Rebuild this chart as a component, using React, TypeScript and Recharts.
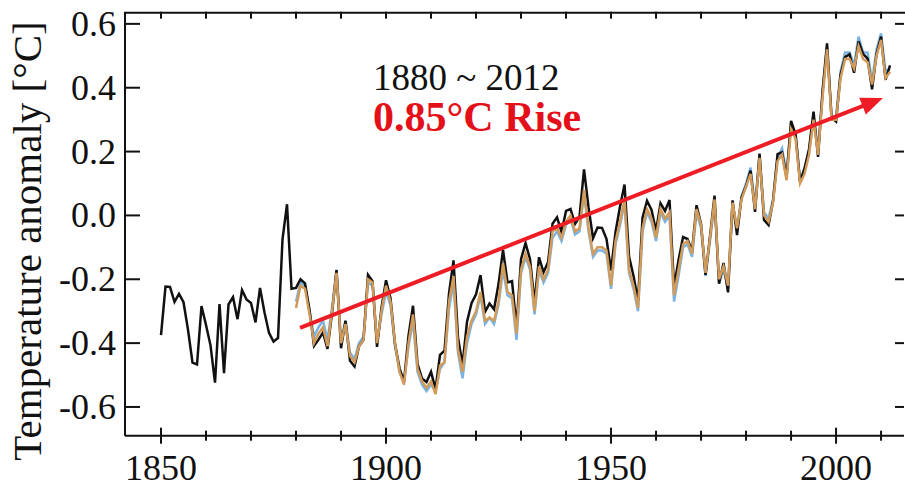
import React from 'react'
import { LineChart, Line, XAxis, YAxis } from 'recharts'

// HadCRUT4-style annual anomalies, 1850-2012 (black)
const hadcrutStart = 1850
const hadcrut = [
  -0.375, -0.223, -0.224, -0.271, -0.246, -0.272, -0.358, -0.461, -0.467, -0.284,
  -0.343, -0.407, -0.524, -0.278, -0.494, -0.279, -0.256, -0.325, -0.234, -0.263,
  -0.274, -0.335, -0.227, -0.304, -0.368, -0.395, -0.384, -0.075, 0.035, -0.23,
  -0.227, -0.2, -0.213, -0.296, -0.409, -0.389, -0.367, -0.418, -0.307, -0.171,
  -0.416, -0.33, -0.455, -0.473, -0.41, -0.39, -0.186, -0.206, -0.412, -0.289,
  -0.203, -0.259, -0.402, -0.479, -0.52, -0.377, -0.283, -0.465, -0.511, -0.522,
  -0.49, -0.544, -0.437, -0.424, -0.244, -0.141, -0.383, -0.468, -0.333, -0.275,
  -0.247, -0.187, -0.302, -0.276, -0.294, -0.215, -0.108, -0.21, -0.206, -0.35,
  -0.137, -0.087, -0.137, -0.273, -0.131, -0.178, -0.147, -0.026, -0.006, -0.052,
  0.014, 0.02, -0.027, -0.004, 0.144, 0.025, -0.071, -0.038, -0.039, -0.074,
  -0.173, -0.052, 0.028, 0.097, -0.129, -0.19, -0.267, -0.007, 0.046, 0.017,
  -0.049, 0.038, 0.014, 0.048, -0.223, -0.14, -0.068, -0.074, -0.113, 0.032,
  -0.027, -0.186, -0.065, 0.062, -0.214, -0.149, -0.241, 0.047, -0.062, 0.057,
  0.092, 0.14, 0.011, 0.194, -0.014, -0.03, 0.045, 0.192, 0.198, 0.118,
  0.296, 0.254, 0.105, 0.148, 0.208, 0.325, 0.183, 0.39, 0.539, 0.306,
  0.294, 0.441, 0.496, 0.505, 0.447, 0.545, 0.506, 0.491, 0.395, 0.506,
  0.56, 0.425, 0.47,
]

// second and third records, 1880-2012 (orange, blue)
const otherStart = 1880
const noaa = [
  -0.29, -0.22, -0.23, -0.31, -0.4, -0.37, -0.35, -0.41, -0.3, -0.18,
  -0.4, -0.34, -0.44, -0.46, -0.41, -0.39, -0.2, -0.21, -0.4, -0.3,
  -0.22, -0.27, -0.4, -0.49, -0.53, -0.4, -0.31, -0.48, -0.52, -0.54,
  -0.52, -0.56, -0.47, -0.46, -0.27, -0.19, -0.42, -0.49, -0.38, -0.33,
  -0.3, -0.24, -0.33, -0.32, -0.33, -0.27, -0.15, -0.24, -0.25, -0.37,
  -0.17, -0.12, -0.16, -0.3, -0.16, -0.2, -0.17, -0.05, -0.04, -0.07,
  -0.02, 0.0, -0.05, -0.04, 0.08, -0.04, -0.12, -0.1, -0.1, -0.11,
  -0.22, -0.08, -0.02, 0.05, -0.17, -0.22, -0.29, -0.04, 0.02, -0.01,
  -0.07, 0.02, -0.01, 0.01, -0.25, -0.17, -0.09, -0.08, -0.12, 0.02,
  -0.03, -0.18, -0.07, 0.05, -0.2, -0.16, -0.22, 0.04, -0.04, 0.05,
  0.09, 0.13, 0.02, 0.18, 0.0, -0.02, 0.04, 0.17, 0.19, 0.11,
  0.27, 0.24, 0.1, 0.13, 0.19, 0.3, 0.19, 0.37, 0.52, 0.3,
  0.3, 0.43, 0.49, 0.49, 0.46, 0.53, 0.49, 0.48, 0.41, 0.5,
  0.55, 0.43, 0.45,
]
const nasa = [
  -0.27, -0.21, -0.22, -0.3, -0.38, -0.35, -0.33, -0.39, -0.29, -0.17,
  -0.39, -0.33, -0.43, -0.45, -0.4, -0.38, -0.21, -0.22, -0.4, -0.31,
  -0.24, -0.28, -0.41, -0.49, -0.52, -0.41, -0.33, -0.49, -0.53, -0.55,
  -0.53, -0.55, -0.48, -0.46, -0.29, -0.21, -0.43, -0.51, -0.4, -0.34,
  -0.31, -0.25, -0.34, -0.32, -0.34, -0.28, -0.17, -0.25, -0.26, -0.39,
  -0.18, -0.13, -0.17, -0.31, -0.17, -0.21, -0.18, -0.07, -0.05, -0.08,
  -0.03, -0.01, -0.06, -0.05, 0.07, -0.05, -0.13, -0.11, -0.11, -0.12,
  -0.23, -0.09, -0.03, 0.04, -0.18, -0.23, -0.3, -0.05, 0.01, -0.02,
  -0.08, 0.01, -0.02, 0.0, -0.27, -0.19, -0.1, -0.09, -0.13, 0.01,
  -0.04, -0.19, -0.08, 0.04, -0.21, -0.17, -0.23, 0.03, -0.04, 0.06,
  0.1, 0.15, 0.03, 0.19, 0.01, -0.01, 0.05, 0.18, 0.21, 0.13,
  0.28, 0.26, 0.11, 0.14, 0.2, 0.31, 0.2, 0.38, 0.53, 0.31,
  0.31, 0.45, 0.51, 0.51, 0.47, 0.56, 0.51, 0.51, 0.42, 0.52,
  0.57, 0.45, 0.46,
]

const xTicks = [1850, 1860, 1870, 1880, 1890, 1900, 1910, 1920, 1930, 1940, 1950, 1960, 1970, 1980, 1990, 2000, 2010]
const xLabels = [1850, 1900, 1950, 2000]
const yTicks = [-0.6, -0.4, -0.2, 0, 0.2, 0.4, 0.6]

// trend arrow endpoints
const trendYears = [1880.9, 2009.4]
const trendValues = [-0.352, 0.362]

const xDomain = [1842, 2015.1]
const yDomain = [-0.69, 0.635]

const rows = hadcrut.map((v, i) => {
  const year = hadcrutStart + i
  const j = year - otherStart
  return {
    year,
    hadcrut: v,
    noaa: j >= 0 ? noaa[j] : undefined,
    nasa: j >= 0 ? nasa[j] : undefined,
  }
})
const trend = trendYears.map((year, i) => ({ year, v: trendValues[i] }))

const W = 905
const H = 486
const margin = { top: 12.7, right: 0, bottom: 0, left: 0 }
const leftW = 125
const rightW = 1
const bottomH = 50.3
// plot box, same as the chart's
const plot = {
  left: margin.left + leftW,
  right: W - margin.right - rightW,
  top: margin.top,
  bottom: H - margin.bottom - bottomH,
}
const sx = (year: number) =>
  plot.left + ((year - xDomain[0]) / (xDomain[1] - xDomain[0])) * (plot.right - plot.left)
const sy = (v: number) =>
  plot.top + ((yDomain[1] - v) / (yDomain[1] - yDomain[0])) * (plot.bottom - plot.top)

const serif = '"Liberation Serif", "Times New Roman", serif'
const ink = '#111'
const red = '#ee1c24'

const bottomLabel = (p: any) => (
  <text key={`b${p.index}`} x={p.x} y={Number(p.y) + 44} textAnchor="middle" fontSize={36} fontFamily={serif} fill={ink}>
    {p.payload.value}
  </text>
)

const leftLabel = (p: any) => (
  <text key={`l${p.index}`} x={Number(p.x) - 9} y={Number(p.y) + 12} textAnchor="end" fontSize={36} fontFamily={serif} fill={ink}>
    {Number(p.payload.value).toFixed(1)}
  </text>
)

const noLabel = (p: any) => <g key={`n${p.index}`} />

function ArrowHead(props: any) {
  const { cx, cy, index, points } = props
  if (index !== 1) return <g key={`a${index}`} />
  let ang = Math.atan2(-228, 578)
  if (points && points.length > 1) {
    ang = Math.atan2(points[1].y - points[0].y, points[1].x - points[0].x)
  }
  const ux = Math.cos(ang)
  const uy = Math.sin(ang)
  const tipX = cx + ux * 5
  const tipY = cy + uy * 5
  const bx = tipX - ux * 22
  const by = tipY - uy * 22
  const hw = 9
  const pts = `${tipX},${tipY} ${bx - uy * hw},${by + ux * hw} ${bx + uy * hw},${by - ux * hw}`
  return <polygon key="a1" points={pts} fill={red} stroke="none" />
}

export default function App() {
  return (
    <div style={{ position: 'absolute', left: 0, top: 0, width: W, height: H, background: '#fff' }}>
      <LineChart width={W} height={H} data={rows} margin={margin}>
        <XAxis
          dataKey="year"
          type="number"
          domain={xDomain}
          allowDataOverflow
          ticks={xLabels}
          interval={0}
          height={bottomH}
          tickSize={0}
          tickMargin={0}
          tickLine={false}
          axisLine={{ stroke: ink, strokeWidth: 2 }}
          tick={bottomLabel}
        />
        <YAxis
          type="number"
          domain={yDomain}
          allowDataOverflow
          ticks={yTicks}
          interval={0}
          width={leftW}
          tickSize={0}
          tickMargin={0}
          tickLine={false}
          axisLine={{ stroke: ink, strokeWidth: 2 }}
          tick={leftLabel}
        />
        <YAxis
          yAxisId="right"
          orientation="right"
          type="number"
          domain={yDomain}
          allowDataOverflow
          ticks={yTicks}
          interval={0}
          width={rightW}
          tickSize={-9}
          tickMargin={0}
          tickLine={{ stroke: ink, strokeWidth: 2 }}
          axisLine={false}
          tick={noLabel}
        />
        <Line yAxisId="right" dataKey="hadcrut" stroke="none" dot={false} activeDot={false} isAnimationActive={false} />
        <Line dataKey="nasa" stroke="#7ab3e3" strokeWidth={2.5} dot={false} isAnimationActive={false} />
        <Line dataKey="hadcrut" stroke="#111" strokeWidth={2.5} dot={false} isAnimationActive={false} />
        <Line dataKey="noaa" stroke="#d39b5a" strokeWidth={2.5} dot={false} isAnimationActive={false} />
        <Line
          data={trend}
          dataKey="v"
          stroke={red}
          strokeWidth={4}
          dot={ArrowHead}
          activeDot={false}
          isAnimationActive={false}
        />
      </LineChart>
      <svg width={W} height={H} style={{ position: 'absolute', left: 0, top: 0, pointerEvents: 'none' }}>
        {/* frame: top edge and inward tick marks */}
        <line x1={plot.left - 1} x2={W} y1={plot.top} y2={plot.top} stroke={ink} strokeWidth={2} />
        {xTicks.map((year) => (
          <line key={`t${year}`} x1={sx(year)} x2={sx(year)} y1={plot.top - 1} y2={plot.top + 6} stroke={ink} strokeWidth={2} />
        ))}
        {xTicks.map((year) => {
          const h = year % 50 === 0 ? 8 : 5
          return (
            <line key={`b${year}`} x1={sx(year)} x2={sx(year)} y1={plot.bottom - h} y2={plot.bottom + h} stroke={ink} strokeWidth={2} />
          )
        })}
        {yTicks.map((v) => (
          <line key={`l${v}`} x1={plot.left} x2={plot.left + 15} y1={sy(v)} y2={sy(v)} stroke={ink} strokeWidth={2} />
        ))}
        <text
          x={41}
          y={241}
          transform="rotate(-90 41 241)"
          textAnchor="middle"
          fontSize={41}
          fontFamily={serif}
          fill={ink}
        >
          Temperature anomaly [°C]
        </text>
        <text x={373} y={90} fontSize={37} fontFamily={serif} fill={ink}>
          1880 ~ 2012
        </text>
        <text x={373} y={131} fontSize={42} fontWeight="bold" fontFamily={serif} fill="#e3101a">
          0.85°C Rise
        </text>
      </svg>
    </div>
  )
}
